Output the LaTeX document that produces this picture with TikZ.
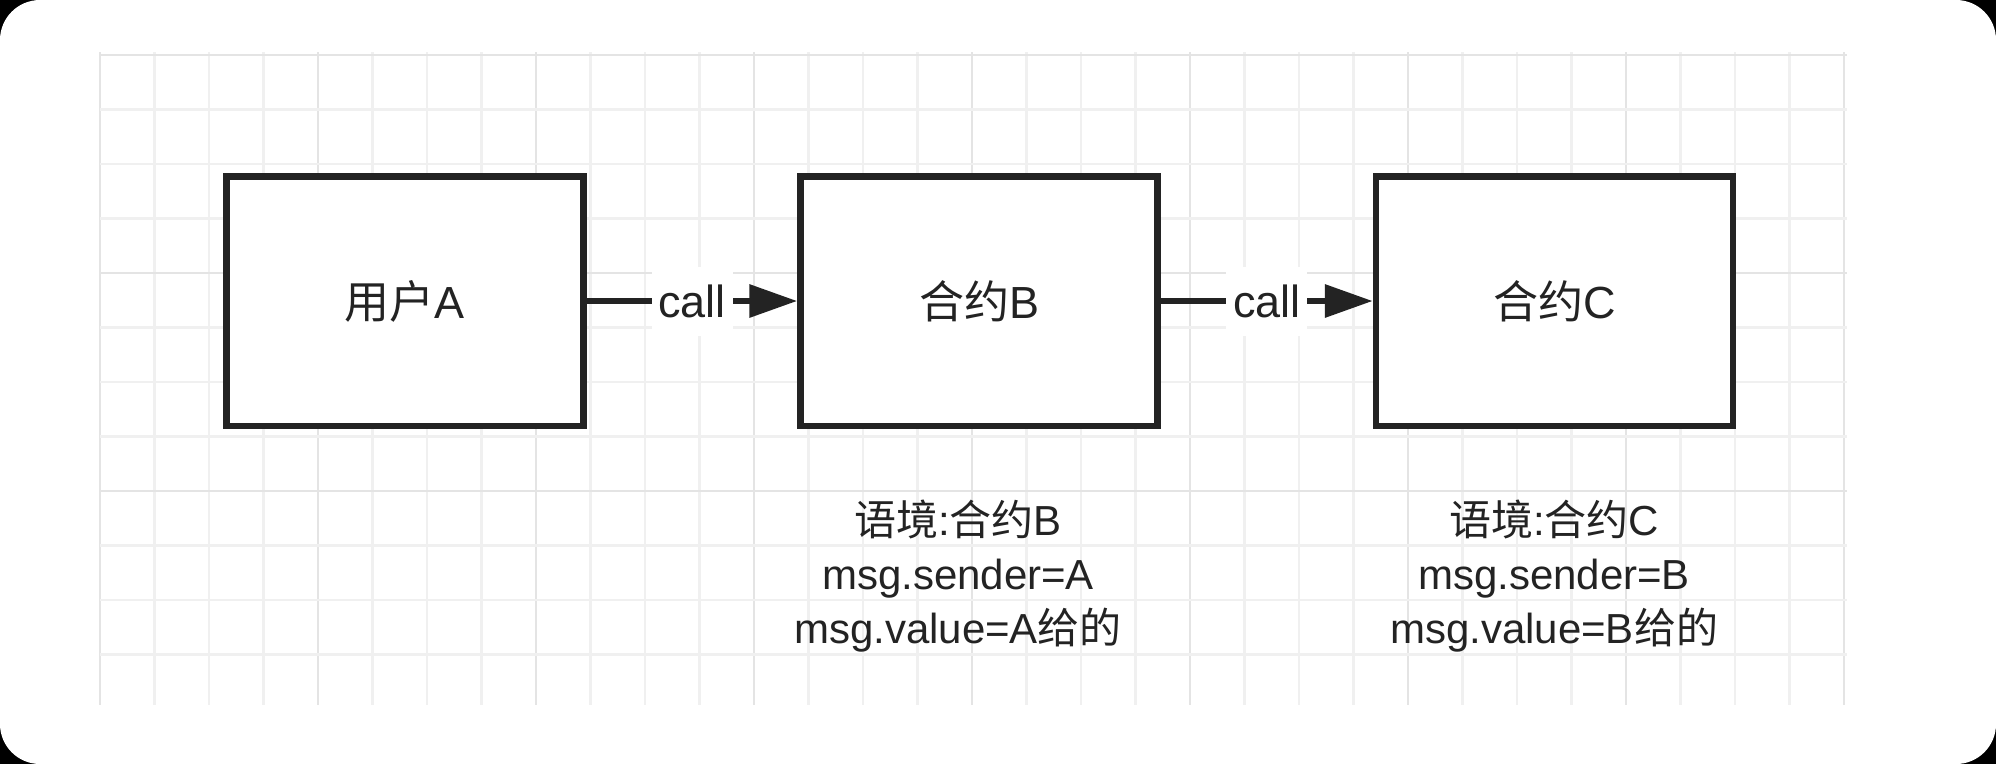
\documentclass[tikz,border=0pt]{standalone}
\usepackage{fontspec}
\setmainfont{Liberation Sans}
\newfontfamily\cjk{Noto Sans CJK SC}
\usetikzlibrary{arrows.meta}
\definecolor{ink}{HTML}{232323}
\definecolor{gridminor}{HTML}{F0F0F0}
\definecolor{gridmajor}{HTML}{E4E4E4}
\tikzset{
  box/.style={draw=ink, line width=6.5pt, fill=white, minimum width=357pt, minimum height=249.5pt, inner sep=0pt,
    text=ink, font=\fontsize{45pt}{54pt}\selectfont},
  conn/.style={draw=ink, line width=6.5pt, -{Triangle[length=48pt,width=32pt]}},
  calllabel/.style={fill=white, text=ink, inner sep=0pt, minimum width=81pt, minimum height=69pt,
    font=\fontsize{45pt}{54pt}\selectfont},
  lowtext/.style={anchor=base, text=ink, inner sep=0pt, font=\fontsize{42pt}{54pt}\selectfont},
  gminor/.style={draw=gridminor, line width=2.5pt},
  gmajor/.style={draw=gridmajor, line width=2.5pt}
}
\begin{document}
\begin{tikzpicture}[x=1pt,y=-1pt]
\useasboundingbox (0,0) rectangle (1996,764);
\fill[black] (0,0) rectangle (1996,764);
\fill[white, rounded corners=40pt] (0,0) rectangle (1996,764);
% grid
\foreach \k in {0,...,32}{
  \pgfmathtruncatemacro{\m}{mod(\k,4)}
  \ifnum\m=0
    \draw[gmajor] ({100+54.5*\k},52) -- ({100+54.5*\k},705);
  \else
    \draw[gminor] ({100+54.5*\k},52) -- ({100+54.5*\k},705);
  \fi
}
\foreach \k in {0,...,11}{
  \pgfmathtruncatemacro{\m}{mod(\k,4)}
  \ifnum\m=0
    \draw[gmajor] (100,{55+54.5*\k}) -- (1847,{55+54.5*\k});
  \else
    \draw[gminor] (100,{55+54.5*\k}) -- (1847,{55+54.5*\k});
  \fi
}
% boxes
\node[box] (A) at (405,301) {{\cjk 用户}A};
\node[box] (B) at (979,301) {{\cjk 合约}B};
\node[box] (C) at (1554.5,301) {{\cjk 合约}C};
% connectors
\draw[conn] (A.east) -- node[calllabel] (l1) {call} (B.west);
\draw[conn] (B.east) -- node[calllabel] (l2) {call} (C.west);
% texts below
\node[lowtext] (b1) at (958,535) {{\cjk 语境}:{\cjk 合约}B};
\node[lowtext] (b2) at (958,589) {msg.sender=A};
\node[lowtext] (b3) at (958,643) {msg.value=A{\cjk 给的}};
\node[lowtext] (c1) at (1554,535) {{\cjk 语境}:{\cjk 合约}C};
\node[lowtext] (c2) at (1554,589) {msg.sender=B};
\node[lowtext] (c3) at (1554,643) {msg.value=B{\cjk 给的}};
\end{tikzpicture}
\end{document}
